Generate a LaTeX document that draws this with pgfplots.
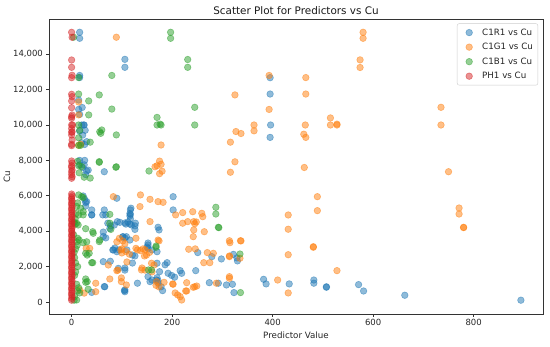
\documentclass[border=0pt]{standalone}
\usepackage{pgfplots}
\pgfplotsset{compat=1.18}
\usepackage{fontspec}
\setmainfont{DejaVu Sans}
\definecolor{tabblue}{HTML}{1F77B4}
\definecolor{taborange}{HTML}{FF7F0E}
\definecolor{tabgreen}{HTML}{2CA02C}
\definecolor{tabred}{HTML}{D62728}
\pgfplotsset{
  sc/.style={only marks, mark=*, mark size=3.3bp, draw=#1, fill=#1, fill opacity=0.5, draw opacity=0.5, line width=0.6bp},
}
\begin{document}
\begin{tikzpicture}
\useasboundingbox (0,0) rectangle (550bp,347bp);
\begin{axis}[
  at={(49bp,33bp)}, anchor=south west,
  width=494bp, height=295bp, scale only axis,
  xmin=-45, xmax=938, ymin=-680, ymax=15990,
  xtick={0,200,400,600,800},
  ytick={0,2000,4000,6000,8000,10000,12000,14000},
  scaled y ticks=false, scaled x ticks=false,
  tick pos=left, tick align=outside,
  major tick length=2.6bp,
  every tick/.style={black!80, line width=0.6bp},
  axis line style={black!80, line width=0.6bp},
  tick label style={font=\fontsize{8.5bp}{10bp}\selectfont, text=black!85},
  xticklabel style={yshift=0.5bp},
  /pgf/number format/.cd, 1000 sep={,}, assume math mode=true,
  /pgfplots/.cd,
  legend cell align=left,
  legend image code/.code={\path[draw=none,fill=none] (0bp,-3bp) rectangle (20bp,3bp); \draw[#1, only marks] plot coordinates {(9bp,0bp)};},
  legend style={at={(0.99,0.985)}, anchor=north east, draw=black!20, rounded corners=2bp,
    font=\fontsize{8.7bp}{10bp}\selectfont, text=black!85, row sep=2.6bp, inner sep=3bp},
  clip=true,
]
\addplot[sc=tabblue] coordinates {
(16,15240)(16,14900)(106,13710)(106,13260)(16,12800)(16,12680)(395,12674)(395,11750)
(396,10000)(395,9300)(14,11413)(21,10990)(14,10880)(16,10600)(20,10000)(24,10000)
(25,10000)(27,9700)(16,9660)(22,9430)(30,9060)(20,9000)(26,8900)(16,8000)(26,8000)
(16,7750)(25,7750)(22,7600)(30,7400)(33,7450)(65,7360)(28,7200)
(23,5990)(26,5800)(28,5620)(28,5420)(30,5670)(40,5200)(40,4920)(65,5200)(68,4920)
(63,3950)(63,3700)(68,3620)(72,4450)(76,4150)(91,4540)(90,5860)(65,870)(40,540)
(63,2280)(82,2940)(86,3050)(94,2940)(102,3680)(106,3620)(106,4460)(112,4520)(116,4400)
(117,5200)(117,4950)(117,4700)(118,5300)(127,4450)(116,3500)(110,2940)(121,2650)(126,2600)
(106,1920)(106,1800)(131,1060)(105,640)(152,3330)(150,3100)(160,2940)(174,4070)(172,4220)
(170,2840)(170,2190)(175,1710)(170,1370)(172,1200)(186,2100)(190,2220)(192,1620)(199,1500)
(202,5950)(202,5200)(205,1400)(169,1240)(172,1070)(178,860)(181,640)(216,1770)(219,1620)
(247,1770)(251,2790)(274,1090)(279,2560)(298,2430)(292,1060)(308,960)(320,1000)(322,2690)
(323,530)(329,2490)(330,2320)(382,1280)(387,1020)(433,1020)(482,1240)(482,1060)(507,860)
(507,830)(571,980)(581,620)(663,380)(894,100)
(40,4920)(62,4920)(78,4300)(85,4350)(96,4500)(108,4400)(119,4350)(116,5000)(116,4860)
(126,4300)(126,4100)(102,3690)(109,3690)(152,3220)(152,3030)(83,2940)(90,2840)(77,2300)
(121,2200)(93,1900)(106,680)(106,580)(66,860)(152,1430)(156,1150)(160,1240)
};
\addlegendentry{C1R1 vs Cu}
\addplot[sc=taborange] coordinates {
(89,14960)(580,15240)(580,14900)(574,13680)(574,13250)(393,12800)(466,12680)(325,11700)
(466,11750)(14,11300)(14,10570)(393,10880)(735,11000)(515,10400)(515,10000)(528,10000)
(528,10050)(465,10000)(462,9480)(466,9300)(735,10000)(363,10000)(363,9670)(327,9630)
(337,9520)(316,9030)(14,8850)(18,8910)(178,8870)(325,7920)(316,7330)(463,7600)(750,7360)
(175,7960)(178,7780)(170,7700)(180,7390)(175,7250)(166,7640)
(489,5950)(489,5160)(431,4915)(431,4110)(431,2670)(481,3125)(481,3090)(528,1770)(410,1240)
(431,510)(771,5310)(771,4970)(780,4200)(780,4220)(29,3030)(36,3030)(48,1060)(25,500)
(76,1300)(90,1770)(92,1800)(98,2940)(100,2770)(83,5950)(95,3600)(102,3450)(106,3300)
(99,1360)(99,1150)(128,3030)(131,2940)(128,3600)(110,2260)(109,960)(137,6050)(136,5390)
(156,5800)(156,4540)(137,2900)(142,3000)(146,2950)(149,2650)(140,1920)(146,1800)(159,2190)
(164,2090)(160,1700)(169,1150)(168,940)(174,850)(172,3500)(174,3450)(172,5670)(182,5630)
(184,1110)(202,1000)(206,510)(211,400)(216,300)(219,110)(207,4920)(221,4450)(221,5050)
(229,620)(229,1090)(231,4540)(233,2980)(241,5100)(243,4540)(243,4070)(242,3690)(246,3000)
(245,860)(249,900)(245,4420)(248,4520)(259,5010)(261,4820)(264,3970)(263,2220)(275,2220)
(270,2790)(282,2750)(288,1060)(314,1340)(314,1430)(314,3460)(315,3350)(314,2600)(314,2560)
(335,2470)(336,3460)(337,3450)(227,620)(201,1020)(242,830)
(16,680)(48,580)(73,2090)(90,3400)(100,3000)(108,2850)(115,2700)(139,1810)(145,2600)(155,2800)
};
\addlegendentry{C1G1 vs Cu}
\addplot[sc=tabgreen] coordinates {
(4,14960)(197,15240)(197,14900)(231,13700)(231,13260)(80,12800)(14,12680)(14,11750)
(55,11700)(34,11360)(80,10900)(34,10570)(245,11000)(170,10430)(170,10000)(178,10000)
(176,10050)(245,10000)(14,10000)(16,9700)(14,9280)(56,9620)(58,9530)(60,9720)(89,9440)
(37,9030)(14,8850)(18,8850)(55,7890)(89,7640)(154,7400)(14,7700)(20,7650)(15,7300)
(25,7050)(37,7000)(88,7610)(55,7930)(12,7950)
(14,6050)(20,5950)(23,5900)(10,5400)(18,5300)(23,5100)(14,4920)(23,4920)(5,4500)(7,4400)
(28,4140)(42,3970)(76,4450)(78,4100)(76,4950)(55,3410)(10,3400)(12,3600)(15,3500)(28,2750)
(31,2650)(42,2220)(28,1300)(31,1150)(12,630)(16,510)(5,100)(10,113)(153,1810)(159,1810)
(168,3160)(168,3090)(287,5350)(287,4970)(292,4220)(293,4200)(335,2710)(336,530)(10,4450)
(13,4350)(23,3350)(30,3400)(43,3880)(56,3500)(35,2750)(40,2220)(28,1110)(33,720)
(8,3000)(6,2500)(12,2000)(8,1700)(6,1500)(10,1000)(14,800)(6,300)(8,2200)(4,3800)(12,5600)
(9,5000)(7,4700)(11,3200)(5,2800)
};
\addlegendentry{C1B1 vs Cu}
\addplot[sc=tabred] coordinates {
(0,15238)(1,14956)(0,13673)(0,13260)(1,12808)(0,12674)(0,11735)(1,11600)(0,11356)
(0,10978)(1,10565)(0,10470)(0,10380)(0,10000)(2,10000)(0,9800)(1,9620)(0,9588)(0,9435)
(1,9153)(0,8910)(0,8832)(0,7966)(1,7850)(0,7700)(0,7600)(1,7458)(0,7360)(0,7200)(1,7080)(0,6990)
(0,6100)(1,6000)(0,5900)(0,5800)(1,5700)(0,5600)(0,5500)(1,5400)(0,5300)(0,5200)(1,5100)
(0,5000)(0,4900)(1,4800)(0,4700)(0,4600)(1,4500)(0,4400)(0,4300)(1,4200)(0,4100)(0,4000)
(1,3900)(0,3800)(0,3700)(1,3600)(0,3500)(0,3400)(1,3300)(0,3200)(0,3100)(1,3000)(0,2900)
(0,2800)(1,2700)(0,2600)(0,2500)(1,2400)(0,2300)(0,2200)(1,2100)(0,2000)(0,1900)(1,1800)
(0,1700)(0,1600)(1,1500)(0,1400)(0,1300)(1,1200)(0,1100)(0,1000)(1,900)(0,800)(0,700)
(1,600)(0,500)(0,400)(1,300)(0,200)(0,100)
};
\addlegendentry{PH1 vs Cu}
\end{axis}
\node[font=\fontsize{10.4bp}{12bp}\selectfont, text=black!90] at (296bp,336.5bp) {Scatter Plot for Predictors vs Cu};
\node[font=\fontsize{8.7bp}{10bp}\selectfont, text=black!85] at (296bp,12bp) {Predictor Value};
\node[font=\fontsize{8.7bp}{10bp}\selectfont, text=black!85, rotate=90] at (7bp,170bp) {Cu};
\end{tikzpicture}
\end{document}
